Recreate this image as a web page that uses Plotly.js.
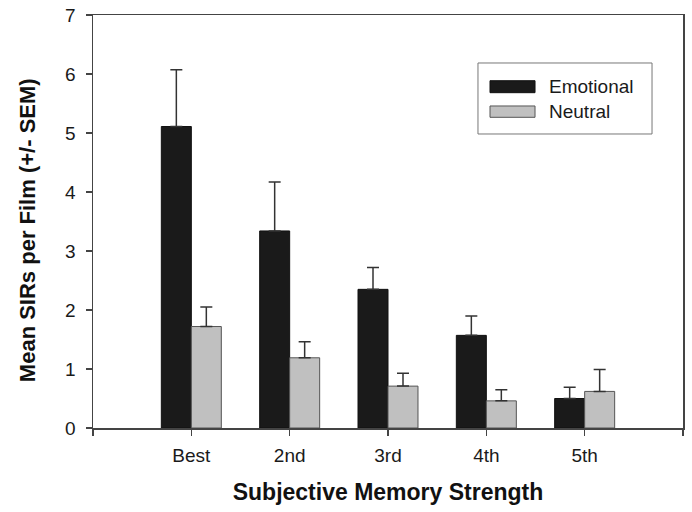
<!DOCTYPE html>
<html>
<head>
<meta charset="utf-8">
<script src="https://cdn.plot.ly/plotly-3.0.1.min.js"></script>
<style>html,body{margin:0;padding:0;background:#fff;}#chart{width:692px;height:512px;}</style>
</head>
<body>
<div id="chart"></div>
<script>
const categories = ['Best', '2nd', '3rd', '4th', '5th'];
const emotional = [5.11, 3.34, 2.35, 1.57, 0.50];
const emotionalSEM = [0.96, 0.83, 0.37, 0.33, 0.19];
const neutral = [1.72, 1.19, 0.71, 0.46, 0.62];
const neutralSEM = [0.33, 0.27, 0.22, 0.19, 0.37];
const yTicks = [0, 1, 2, 3, 4, 5, 6, 7];

const xIdx = categories.map((c, i) => i);
const tickVals = [-1].concat(xIdx, [categories.length]);
const tickText = [''].concat(categories, ['']);

const font = {family: 'Arial, "Liberation Sans", sans-serif', color: '#1a1a1a'};

const traces = [
  {
    type: 'bar', name: 'Emotional', x: xIdx, y: emotional,
    marker: {color: '#1a1a1a', line: {color: '#111', width: 1}},
    error_y: {type: 'data', array: emotionalSEM, symmetric: false, arrayminus: emotional.map(() => 0), color: '#333', thickness: 1.5, width: 6},
    showlegend: false
  },
  {
    type: 'bar', name: 'Neutral', x: xIdx, y: neutral,
    marker: {color: '#c0c0c0', line: {color: '#555', width: 1}},
    error_y: {type: 'data', array: neutralSEM, symmetric: false, arrayminus: neutral.map(() => 0), color: '#333', thickness: 1.5, width: 6},
    showlegend: false
  }
];

const layout = {
  width: 692, height: 512,
  margin: {l: 93, r: 9, t: 15, b: 84},
  paper_bgcolor: '#fff', plot_bgcolor: '#fff',
  barmode: 'group', bargap: 0.39, bargroupgap: 0,
  font: font,
  showlegend: false,
  xaxis: {
    range: [-1, categories.length], tickvals: tickVals, ticktext: tickText,
    showgrid: false, zeroline: false,
    showline: true, linecolor: '#444', linewidth: 1.5, mirror: true,
    ticks: 'outside', ticklen: 6, tickwidth: 1.5, tickcolor: '#444',
    tickfont: {size: 19, family: font.family, color: '#1a1a1a'},
    ticklabelstandoff: 4,
    title: {text: 'Subjective Memory Strength', font: {size: 23, family: font.family, color: '#111', weight: 'bold'}, standoff: 18}
  },
  yaxis: {
    range: [0, 7], tickvals: yTicks,
    showgrid: false, zeroline: false,
    showline: true, linecolor: '#444', linewidth: 1.5, mirror: true,
    ticks: 'outside', ticklen: 6, tickwidth: 1.5, tickcolor: '#444',
    tickfont: {size: 19, family: font.family, color: '#1a1a1a'},
    ticklabelstandoff: 6
  },
  shapes: [
    {type: 'rect', xref: 'paper', yref: 'paper', x0: 0.6525, x1: 0.9475, y0: 0.7119, y1: 0.8838, line: {color: '#777', width: 1}, fillcolor: 'rgba(0,0,0,0)'},
    {type: 'rect', xref: 'paper', yref: 'paper', x0: 0.6729, x1: 0.7492, y0: 0.8119, y1: 0.8409, line: {color: '#111', width: 1}, fillcolor: '#1a1a1a'},
    {type: 'rect', xref: 'paper', yref: 'paper', x0: 0.6729, x1: 0.7492, y0: 0.7523, y1: 0.7797, line: {color: '#555', width: 1}, fillcolor: '#c0c0c0'}
  ],
  annotations: [
    {xref: 'paper', yref: 'paper', x: 0.769, y: 0.8269, xanchor: 'left', yanchor: 'middle', text: 'Emotional', showarrow: false, font: {size: 19, family: font.family, color: '#1a1a1a'}},
    {xref: 'paper', yref: 'paper', x: 0.769, y: 0.7663, xanchor: 'left', yanchor: 'middle', text: 'Neutral', showarrow: false, font: {size: 19, family: font.family, color: '#1a1a1a'}},
    {xref: 'paper', yref: 'paper', x: -0.1119, y: 0.479, xanchor: 'center', yanchor: 'middle', textangle: -90, text: 'Mean SIRs per Film (+/- SEM)', showarrow: false, font: {size: 22, family: font.family, color: '#111', weight: 'bold'}}
  ]
};

Plotly.newPlot('chart', traces, layout, {displayModeBar: false, staticPlot: true});
</script>
</body>
</html>
